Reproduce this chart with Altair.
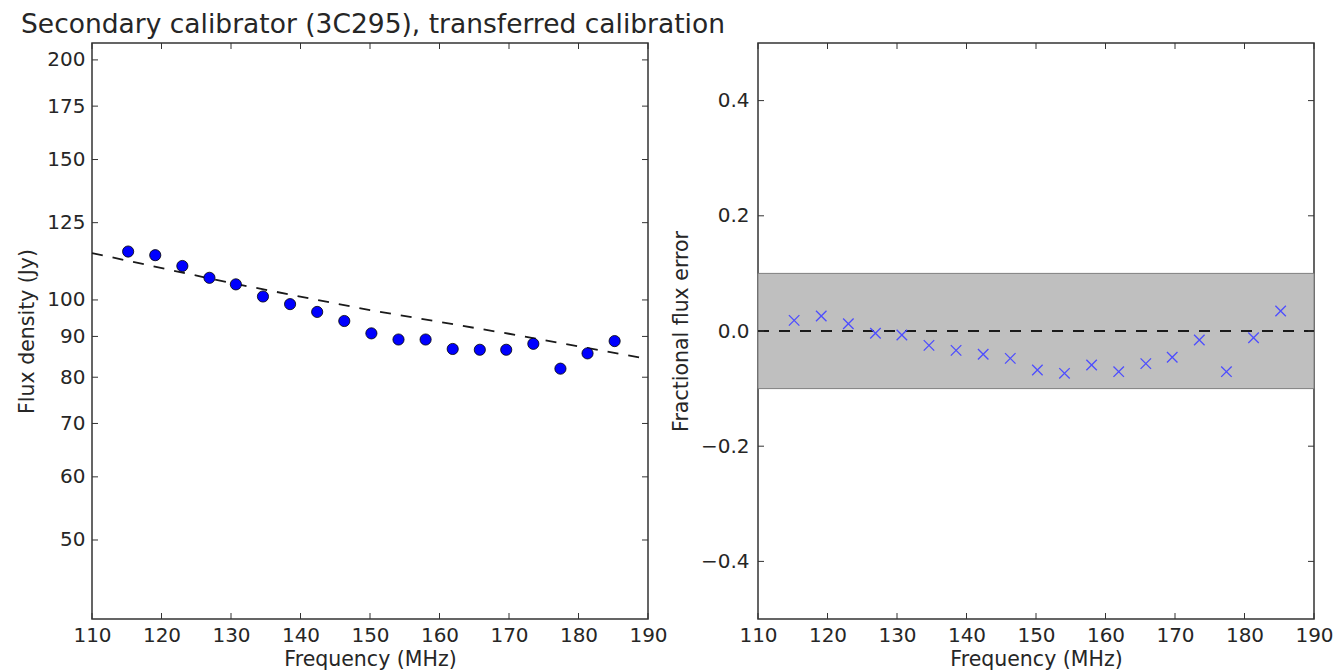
import altair as alt
import pandas as pd

# ---- data ----
freq = [115.2, 119.1, 123.0, 126.9, 130.7, 134.6, 138.5, 142.4, 146.3, 150.2,
        154.1, 158.0, 161.9, 165.8, 169.6, 173.5, 177.4, 181.3, 185.2]
flux = [115.0, 113.8, 110.3, 106.6, 104.6, 101.0, 98.8, 96.6, 94.1, 90.8,
        89.2, 89.2, 86.8, 86.6, 86.6, 88.1, 82.0, 85.7, 88.8]
frac_err = [0.0185, 0.026, 0.0127, -0.004, -0.007, -0.025, -0.0336, -0.0405, -0.0475, -0.0677,
            -0.0735, -0.059, -0.0706, -0.0567, -0.0457, -0.0156, -0.0706, -0.0116, 0.0347]
model_freq = [110, 130, 150, 170, 190]
model_flux = [114.5, 105.0, 97.1, 90.7, 84.3]
flux_ticks = [50, 60, 70, 80, 90, 100, 125, 150, 175, 200]
err_ticks = [-0.4, -0.2, 0.0, 0.2, 0.4]
freq_ticks = [110, 120, 130, 140, 150, 160, 170, 180, 190]
band_lo, band_hi = [-0.1], [0.1]
zero_line = [0.0]

W, H = 556, 576
TL = 6
FONT = "DejaVu Sans"
TXT = "#262626"
FRAME = "#333333"

pts = pd.DataFrame({"freq": freq, "flux": flux, "err": frac_err})
model = pd.DataFrame({"freq": model_freq, "flux": model_flux})
fticks = pd.DataFrame({"freq": freq_ticks})
lyticks = pd.DataFrame({"flux": flux_ticks})
ryticks = pd.DataFrame({"err": err_ticks})
band = pd.DataFrame({"freq": [freq_ticks[0]], "freq2": [freq_ticks[-1]], "err": band_lo, "err2": band_hi})
zero = pd.DataFrame({"freq": [freq_ticks[0]], "freq2": [freq_ticks[-1]], "err": zero_line})

xscale = alt.Scale(domain=[110, 190], nice=False, zero=False)
xaxis = alt.Axis(values=freq_ticks, format="d", title="Frequency (MHz)", ticks=False,
                 domain=False, grid=False, labelPadding=6, titlePadding=4,
                 labelFlush=False, labelOverlap=False)
X = alt.X("freq:Q", scale=xscale, axis=xaxis)

# ---- left panel ----
lyscale = alt.Scale(type="log", domain=[39.8, 210], nice=False)
lyaxis = alt.Axis(values=flux_ticks, format="d", title="Flux density (Jy)", ticks=False,
                  domain=False, grid=False, labelPadding=7, titlePadding=9,
                  labelFlush=False, labelOverlap=False)
LY = alt.Y("flux:Q", scale=lyscale, axis=lyaxis)

l_model = alt.Chart(model).mark_line(color="#1a1a1a", strokeWidth=1.8, strokeDash=[11, 10]).encode(x=X, y=LY)
l_pts = alt.Chart(pts).mark_point(filled=True, shape="circle", size=125, fill="#0000ff",
                                  stroke="#000000", strokeWidth=0.8, opacity=1).encode(x=X, y=LY)
l_tl = alt.Chart(lyticks).mark_rule(color=FRAME, strokeWidth=1).encode(y=LY, x=alt.value(0), x2=alt.value(TL))
l_tr = alt.Chart(lyticks).mark_rule(color=FRAME, strokeWidth=1).encode(y=LY, x=alt.value(W - TL), x2=alt.value(W))
l_tb = alt.Chart(fticks).mark_rule(color=FRAME, strokeWidth=1).encode(x=X, y=alt.value(H - TL), y2=alt.value(H))
l_tt = alt.Chart(fticks).mark_rule(color=FRAME, strokeWidth=1).encode(x=X, y=alt.value(0), y2=alt.value(TL))

left = alt.layer(l_model, l_pts, l_tl, l_tr, l_tb, l_tt).properties(
    width=W, height=H,
    title=alt.TitleParams("Secondary calibrator (3C295), transferred calibration",
                          font=FONT, fontSize=26.5, fontWeight="normal", color=TXT,
                          anchor="middle", baseline="alphabetic", offset=9, dy=26, dx=3),
)

# ---- right panel ----
ryscale = alt.Scale(domain=[-0.5, 0.5], nice=False, zero=False)
ryaxis = alt.Axis(values=err_ticks, format=".1f", title="Fractional flux error", ticks=False,
                  domain=False, grid=False, labelPadding=9, titlePadding=9,
                  labelFlush=False, labelOverlap=False)
RY = alt.Y("err:Q", scale=ryscale, axis=ryaxis)

r_band = alt.Chart(band).mark_rect(fill="#bfbfbf", stroke="#7f7f7f", strokeWidth=1).encode(
    x=X, x2="freq2:Q", y=RY, y2="err2:Q")
r_zero = alt.Chart(zero).mark_rule(color="#1a1a1a", strokeWidth=1.8, strokeDash=[11, 10]).encode(
    x=X, x2="freq2:Q", y=RY)
r_pts = alt.Chart(pts).mark_point(shape="M-1,-1L1,1M-1,1L1,-1", size=110, stroke="#4d4dff",
                                  strokeWidth=1.3, filled=False, opacity=1).encode(x=X, y=RY)
r_tl = alt.Chart(ryticks).mark_rule(color=FRAME, strokeWidth=1).encode(y=RY, x=alt.value(0), x2=alt.value(TL))
r_tr = alt.Chart(ryticks).mark_rule(color=FRAME, strokeWidth=1).encode(y=RY, x=alt.value(W - TL), x2=alt.value(W))
r_tb = alt.Chart(fticks).mark_rule(color=FRAME, strokeWidth=1).encode(x=X, y=alt.value(H - TL), y2=alt.value(H))
r_tt = alt.Chart(fticks).mark_rule(color=FRAME, strokeWidth=1).encode(x=X, y=alt.value(0), y2=alt.value(TL))

right = alt.layer(r_band, r_zero, r_pts, r_tl, r_tr, r_tb, r_tt).properties(width=W, height=H)

chart = alt.hconcat(left, right, spacing=110, bounds="flush").properties(
    padding={"left": 9, "top": 3, "right": 0, "bottom": 0},
    background="white",
).configure_view(
    stroke=FRAME, strokeWidth=1.5
).configure_axis(
    labelFont=FONT, labelFontSize=20, labelColor=TXT,
    titleFont=FONT, titleFontSize=20.5, titleFontWeight="normal", titleColor=TXT,
)

chart.save("out.html", embed_options={"renderer": "svg", "actions": False})
